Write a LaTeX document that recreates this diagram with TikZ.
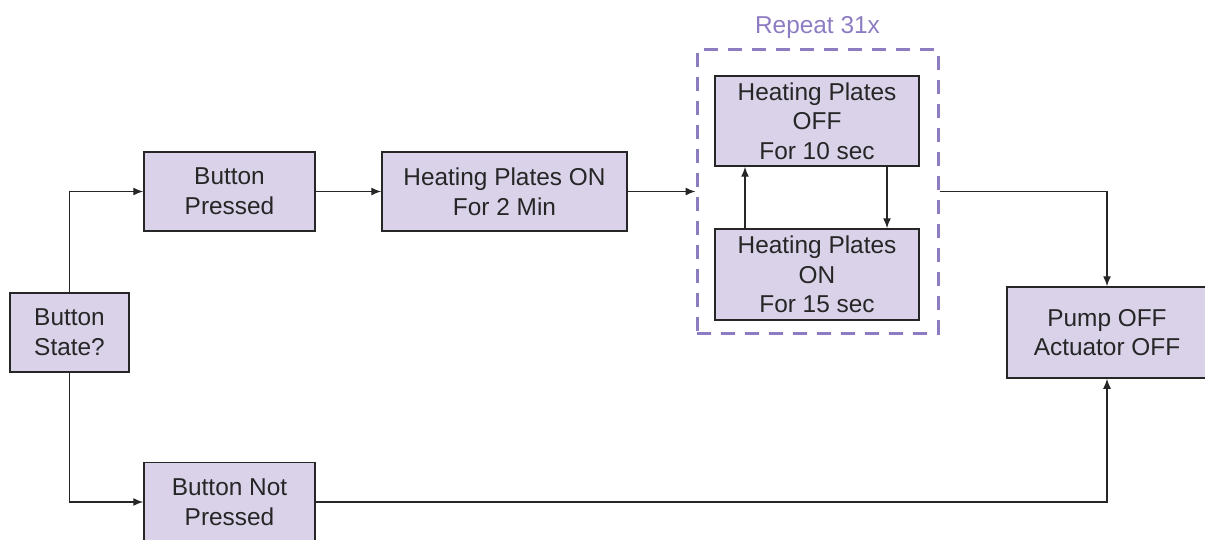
\documentclass[tikz,border=0pt]{standalone}
\usepackage{fontspec}
\setmainfont{Liberation Sans}
\usepackage{xcolor}
\usetikzlibrary{arrows.meta, positioning}

\definecolor{boxfill}{HTML}{D9D2E9}
\definecolor{loopcol}{HTML}{8E7CC3}
\definecolor{inkcol}{HTML}{262626}

\begin{document}
\begin{tikzpicture}[
  x=0.5pt, y=-0.5pt,
  font=\fontsize{12.2}{14.8}\selectfont,
  box/.style={rectangle, draw=inkcol, fill=boxfill, line width=0.75pt,
              align=center, text=inkcol, inner sep=0pt,
              minimum width=85.5pt, minimum height=39.5pt},
  loopbox/.style={rectangle, draw=loopcol, line width=1.5pt,
                  dash pattern=on 7pt off 5pt, inner sep=0pt},
  arr/.style={-{Latex[length=5pt,width=4pt]}, line width=0.7pt, inkcol}
]

\clip (0,0) rectangle (1205,540);

% Nodes
\node[box, minimum width=59.5pt]  (state)   at (69.5,332.5) {Button\\State?};
\node[box]                        (pressed) at (229.5,191.5) {Button\\Pressed};
\node[box, minimum width=122.5pt] (heaton)  at (504.5,191.5) {Heating Plates ON\\For 2 Min};
\node[box]                        (notpr)   at (229.5,502)   {Button Not\\Pressed};

\node[box, minimum width=102pt, minimum height=45pt] (offten) at (817,121)
  {Heating Plates\\OFF\\For 10 sec};
\node[box, minimum width=102pt, minimum height=45.5pt] (onfift) at (817,274.5)
  {Heating Plates\\ON\\For 15 sec};

\node[loopbox, minimum width=120.5pt, minimum height=141.5pt] (loop) at (817.5,191.5) {};
\node[text=loopcol, above=1.5pt of loop] (repeat) {Repeat 31x};

\node[box, minimum width=100pt, minimum height=45.5pt] (pump) at (1107,332.5)
  {Pump OFF\\Actuator OFF};

% State split
\draw[arr] (state.north) |- (pressed.west);
\draw[arr] (state.south) |- (notpr.west);

% Pressed path
\draw[arr] (pressed.east) -- (heaton.west);
\draw[arr] (heaton.east) -- (loop.west);

% Loop inside repeat box
\draw[arr] ([xshift=35pt]offten.south) -- ([xshift=35pt]onfift.north);
\draw[arr] ([xshift=-36pt]onfift.north) -- ([xshift=-36pt]offten.south);

% To pump
\draw[arr] (loop.east) -| (pump.north);
\draw[arr] (notpr.east) -| (pump.south);

\end{tikzpicture}
\end{document}
